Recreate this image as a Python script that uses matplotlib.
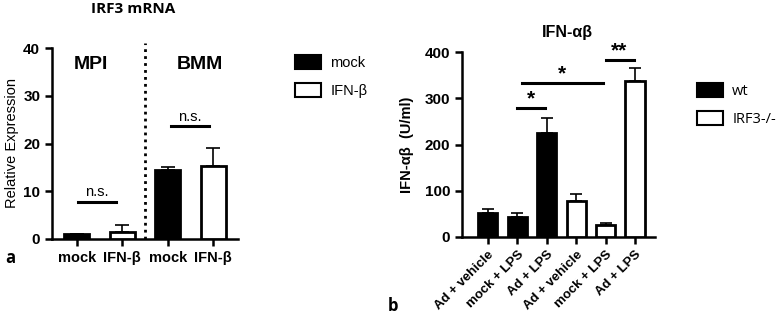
import matplotlib
matplotlib.use("Agg")
import matplotlib.pyplot as plt
from matplotlib.patches import Patch

# panel a: IRF3 mRNA
a_labels = ["mock", "IFN-β", "mock", "IFN-β"]
a_values = [1.05, 1.4, 14.5, 15.2]
a_errors = [0.1, 1.6, 0.5, 3.9]
a_fills = ["black", "white", "black", "white"]

# panel b: IFN-ab
b_labels = ["Ad + vehicle", "mock + LPS", "Ad + LPS", "Ad + vehicle", "mock + LPS", "Ad + LPS"]
b_values = [51, 42.5, 225, 78, 25, 338]
b_errors = [9.5, 9.5, 32, 15, 4.5, 27]
b_fills = ["black", "black", "black", "white", "white", "white"]

plt.rcParams['font.family'] = ['Liberation Sans', 'DejaVu Sans']

fig = plt.figure(figsize=(7.82, 3.16), dpi=100)


def style_axis(ax, xsize):
    for s in ["top", "right"]:
        ax.spines[s].set_visible(False)
    for s in ["left", "bottom"]:
        ax.spines[s].set_linewidth(1.8)
    ax.tick_params(width=1.8, length=5)
    for t in ax.get_yticklabels():
        t.set_fontweight("bold")
        t.set_fontsize(11)
    for t in ax.get_xticklabels():
        t.set_fontweight("bold")
        t.set_fontsize(xsize)


# ---- panel a ----
ax1 = fig.add_axes([52 / 782, 1 - 239 / 316, 186 / 782, 191 / 316])
xa = list(range(len(a_values)))
ax1.bar(xa, a_values, width=0.55, color=a_fills, edgecolor="black", linewidth=2, zorder=3)
ax1.errorbar(xa, a_values, yerr=[[0] * 4, a_errors], fmt="none", ecolor="black",
             elinewidth=1.2, capsize=5, capthick=1.2, zorder=2)
ax1.set_xlim(-0.55, 3.55)
ax1.set_ylim(0, 40)
ax1.set_yticks([0, 10, 20, 30, 40])
ax1.set_xticks(xa)
ax1.set_xticklabels(a_labels)
ax1.set_ylabel("Relative Expression", fontsize=10.5, labelpad=3)
style_axis(ax1, 10.5)
ax1.plot([1.5, 1.5], [0, 41], linestyle=(0, (1, 1.5)), color="black", linewidth=2, clip_on=False)
ax1.text(0.3, 36.5, "MPI", ha="center", va="center", fontsize=14, fontweight="bold")
ax1.text(2.72, 36.5, "BMM", ha="center", va="center", fontsize=14, fontweight="bold")
# significance
ax1.plot([0.02, 0.85], [7.8, 7.8], color="black", linewidth=2.2)
ax1.text(0.43, 8.3, "n.s.", ha="center", va="bottom", fontsize=10.5)
ax1.plot([2.07, 2.9], [23.6, 23.6], color="black", linewidth=2.2)
ax1.text(2.48, 24.1, "n.s.", ha="center", va="bottom", fontsize=10.5)
ax1.legend(handles=[Patch(facecolor="black", edgecolor="black", linewidth=1.5, label="mock"),
                    Patch(facecolor="white", edgecolor="black", linewidth=1.5, label="IFN-β")],
           loc="upper left", bbox_to_anchor=(282 / 782, 1 - 42 / 316), bbox_transform=fig.transFigure,
           frameon=False, fontsize=10.5, handlelength=1.8, handleheight=1.1, labelspacing=0.9,
           handletextpad=0.6)

fig.text(133 / 782, 1 - 9 / 316, "IRF3 mRNA", ha="center", va="center", fontsize=11,
         fontweight="bold", family="Open Sans")
fig.text(5 / 782, 1 - 258 / 316, "a", ha="left", va="center", fontsize=12,
         fontweight="bold", family="Open Sans")

# ---- panel b ----
ax2 = fig.add_axes([462 / 782, 1 - 237 / 316, 193 / 782, 185 / 316])
xb = list(range(len(b_values)))
ax2.bar(xb, b_values, width=0.65, color=b_fills, edgecolor="black", linewidth=2, zorder=3)
ax2.errorbar(xb, b_values, yerr=[[0] * 6, b_errors], fmt="none", ecolor="black",
             elinewidth=1.2, capsize=4, capthick=1.2, zorder=2)
ax2.set_xlim(-0.88, 5.68)
ax2.set_ylim(0, 400)
ax2.set_yticks([0, 100, 200, 300, 400])
ax2.set_xticks(xb)
ax2.set_xticklabels(b_labels, rotation=45, ha="right", rotation_mode="anchor")
ax2.set_ylabel("IFN-αβ  (U/ml)", fontsize=10.5, fontweight="bold", labelpad=8)
style_axis(ax2, 9.5)
# significance
ax2.plot([1.0, 1.95], [279, 279], color="black", linewidth=2.2)
ax2.text(1.47, 279, "*", ha="center", va="bottom", fontsize=15, fontweight="bold")
ax2.plot([1.15, 3.9], [332, 332], color="black", linewidth=2.2)
ax2.text(2.52, 332, "*", ha="center", va="bottom", fontsize=15, fontweight="bold")
ax2.plot([4.0, 4.95], [383, 383], color="black", linewidth=2.2)
ax2.text(4.47, 381, "**", ha="center", va="bottom", fontsize=15, fontweight="bold")
ax2.legend(handles=[Patch(facecolor="black", edgecolor="black", linewidth=1.5, label="wt"),
                    Patch(facecolor="white", edgecolor="black", linewidth=1.5, label="IRF3-/-")],
           loc="upper left", bbox_to_anchor=(684 / 782, 1 - 70 / 316), bbox_transform=fig.transFigure,
           frameon=False, handlelength=1.8, handleheight=1.1, labelspacing=0.8,
           handletextpad=0.6, prop={"family": "Open Sans", "size": 10.5})

fig.text(567 / 782, 1 - 32 / 316, "IFN-αβ", ha="center", va="center", fontsize=11.5,
         fontweight="bold")
fig.text(388 / 782, 1 - 306 / 316, "b", ha="left", va="center", fontsize=12,
         fontweight="bold", family="Open Sans")

fig.savefig("out.png", dpi=100)
